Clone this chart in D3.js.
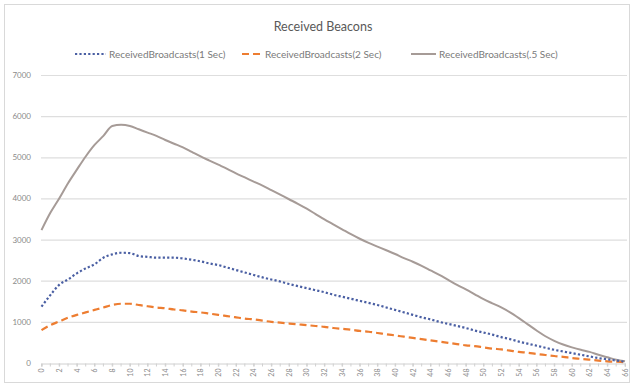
<!DOCTYPE html>
<html><head><meta charset="utf-8">
<script src="https://cdn.jsdelivr.net/npm/d3@7"></script>
<style>body{margin:0;background:#fff;} text{font-family:Lato,"Open Sans",sans-serif;}</style>
</head><body><svg id="c" width="632" height="385"></svg>
<script>
const categories = d3.range(0, 67);
const tickLabels = d3.range(0, 67, 2);
const yTicks = [0,1000,2000,3000,4000,5000,6000,7000];
const seriesNames = ["ReceivedBroadcasts(1 Sec)","ReceivedBroadcasts(2 Sec)","ReceivedBroadcasts(.5 Sec)"];
const sec1 = [1370,1650,1900,2030,2180,2300,2400,2560,2640,2680,2670,2600,2580,2560,2560,2560,2540,2510,2470,2420,2380,2320,2260,2200,2140,2080,2030,1980,1920,1870,1820,1770,1720,1660,1610,1560,1510,1460,1410,1350,1290,1230,1170,1110,1060,1000,950,900,850,790,740,690,630,580,520,470,420,370,320,280,240,200,160,120,90,60,30];
const sec2 = [800,920,1010,1100,1170,1230,1290,1350,1410,1440,1440,1410,1380,1350,1330,1300,1280,1250,1230,1200,1170,1140,1110,1080,1060,1030,1000,980,960,940,920,900,880,850,830,810,780,760,730,700,670,640,610,580,550,520,490,460,430,410,380,350,330,300,270,250,220,195,170,150,120,100,80,60,40,30,20];
const sec05 = [3230,3650,4000,4370,4700,5020,5300,5520,5760,5790,5760,5680,5600,5520,5420,5330,5240,5130,5020,4920,4820,4720,4610,4510,4410,4310,4200,4090,3980,3870,3750,3620,3490,3370,3250,3130,3020,2920,2830,2740,2650,2550,2460,2360,2250,2140,2020,1900,1790,1670,1550,1450,1350,1230,1090,940,790,650,540,450,380,320,270,200,140,80,40];

const svg = d3.select("#c");
svg.append("rect").attr("x",4.5).attr("y",4.5).attr("width",625).attr("height",378)
  .attr("fill","#fff").attr("stroke","#d9d9d9");

const x = d3.scalePoint().domain(categories).range([41.5, 625]);
const y = d3.scaleLinear().domain([0,7000]).range([363, 75]);

svg.append("g").selectAll("line").data(yTicks.filter(d=>d>0)).join("line")
  .attr("x1",41).attr("x2",627).attr("y1",d=>y(d)+0.5).attr("y2",d=>y(d)+0.5)
  .attr("stroke","#dedede").attr("stroke-width",1.2);

svg.append("g").selectAll("text").data(yTicks).join("text")
  .attr("x",31).attr("y",d=>y(d)+3).attr("text-anchor","end")
  .attr("font-size",8).attr("fill","#8a8a8a").text(d=>d);

const xAxis = d3.axisBottom(x).tickValues(tickLabels).tickSize(3).tickPadding(3);
const gx = svg.append("g").attr("transform","translate(0,363.5)").call(xAxis);
gx.select(".domain").attr("stroke","#d0d0d0");
gx.selectAll(".tick line").attr("stroke","#d0d0d0");
gx.selectAll(".minor").data(categories).join("line").attr("class","minor")
  .attr("x1",d=>x(d)).attr("x2",d=>x(d)).attr("y1",0).attr("y2",3).attr("stroke","#d0d0d0");
gx.selectAll(".tick text").attr("font-size",7).attr("fill","#8a8a8a")
  .attr("transform","rotate(-90)").attr("text-anchor","end")
  .attr("x",-5).attr("y",0).attr("dy","0.32em");
gx.attr("font-family","Lato");

const line = d3.line().x((d,i)=>x(categories[i])).y(d=>y(d)).curve(d3.curveMonotoneX);

const styles = [
  {data:sec1, color:"#4a5fa3", dash:"2.2,2.2", width:2.2, lx:75, lw:31},
  {data:sec2, color:"#ed7d31", dash:"7,4", width:2.2, lx:242, lw:20},
  {data:sec05, color:"#a69b97", dash:null, width:2, lx:411, lw:25}
];
[styles[2], styles[1], styles[0]].forEach(s=>{
  svg.append("path").datum(s.data).attr("d",line).attr("fill","none")
    .attr("stroke",s.color).attr("stroke-width",s.width)
    .attr("stroke-dasharray",s.dash);
});

svg.append("text").attr("x",323).attr("y",31).attr("text-anchor","middle")
  .attr("font-size",12.5).attr("fill","#595959").text("Received Beacons");

const lg = svg.append("g");
styles.forEach((s,i)=>{
  const g = lg.append("g").attr("transform",`translate(${s.lx},54)`);
  g.append("line").attr("x1",0).attr("x2",s.lw).attr("y1",0).attr("y2",0)
    .attr("stroke",s.color).attr("stroke-width",s.width).attr("stroke-dasharray",s.dash);
  g.append("text").attr("x",s.lw+3).attr("y",3.5).attr("font-size",10).attr("fill","#7a7a7a").text(seriesNames[i]);
});
</script></body></html>
